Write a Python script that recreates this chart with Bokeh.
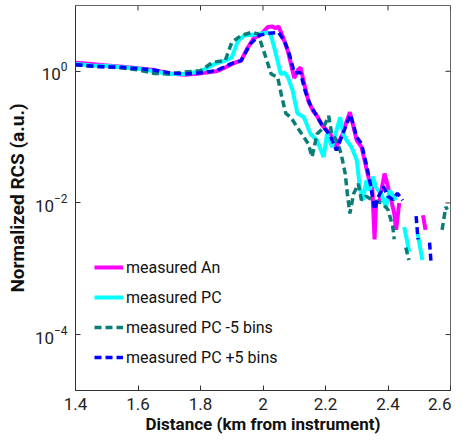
import math
from bokeh.plotting import figure
from bokeh.models import FixedTicker, Legend, LegendItem, Range1d
from bokeh.embed import file_html
from bokeh.resources import INLINE

nan = float("nan")

# ---- data (distance in km, normalized RCS) ----
an_dist = [1.40, 1.45, 1.50, 1.55, 1.60, 1.65, 1.70, 1.75, 1.80, 1.85, 1.88, 1.91, 1.93, 1.95,
           1.97, 1.995, 2.015, 2.03, 2.04, 2.05, 2.065, 2.08, 2.10, 2.112, 2.12, 2.13, 2.145,
           2.16, 2.17, 2.19, 2.215, 2.235, 2.255, 2.265, 2.278, 2.29, 2.30, 2.315, 2.33, 2.34,
           2.35, 2.357, 2.362, 2.373, 2.389, 2.405, 2.42, 2.426, 2.436, 2.47, 2.512, 2.52]
an_rcs = [1.35, 1.29, 1.23, 1.17, 1.11, 1.05, 0.93, 0.89, 0.93, 1.0, 1.15, 1.35, 1.45, 2.24,
          3.16, 3.7, 4.7, 4.8, 4.5, 4.8, 3.2, 2.0, 0.79, 1.05, 1.15, 0.71, 0.355,
          0.25, 0.22, 0.15, 0.112, 0.071, 0.112, 0.16, 0.24, 0.14, 0.089, 0.071, 0.035, 0.022,
          0.016, 0.0028, 0.01, 0.011, 0.028, 0.014, 0.0069, 0.0039, 0.01, nan, 0.0065, 0.0039]

pc_dist = [1.40, 1.45, 1.50, 1.55, 1.60, 1.65, 1.70, 1.75, 1.80, 1.85, 1.88, 1.90, 1.92, 1.94,
           1.96, 1.985, 2.015, 2.025, 2.036, 2.057, 2.07, 2.08, 2.095, 2.11, 2.131, 2.152,
           2.173, 2.194, 2.205, 2.221, 2.232, 2.247, 2.257, 2.268, 2.283, 2.30, 2.31, 2.32,
           2.331, 2.341, 2.352, 2.362, 2.378, 2.394, 2.405, 2.426, 2.44, 2.452, 2.468, 2.48,
           2.495, 2.51]
pc_rcs = [1.29, 1.23, 1.2, 1.15, 1.1, 1.0, 0.91, 0.91, 1.0, 1.32, 1.45, 1.62, 2.9, 3.5,
          3.55, 3.7, 3.9, 3.55, 2.3, 0.91, 0.95, 0.81, 0.51, 0.23, 0.2, 0.112,
          0.089, 0.05, 0.112, 0.071, 0.112, 0.2, 0.112, 0.089, 0.071, 0.045, 0.017, 0.011,
          0.022, 0.0155, 0.025, 0.017, 0.0138, 0.0087, 0.0155, 0.011, nan, 0.0043, 0.0018, nan,
          0.0034, 0.00135]

pcm5_dist = [1.40, 1.45, 1.50, 1.55, 1.60, 1.65, 1.70, 1.75, 1.80, 1.84, 1.879, 1.90, 1.93,
             1.963, 1.984, 2.005, 2.026, 2.047, 2.06, 2.073, 2.089, 2.11, 2.131, 2.145, 2.157,
             2.173, 2.194, 2.21, 2.22, 2.236, 2.25, 2.263, 2.27, 2.278, 2.29, 2.305, 2.315,
             2.33, 2.35, 2.38, 2.40, 2.415, 2.42, 2.44, 2.457, 2.467, 2.52, 2.573, 2.585, 2.59]
pcm5_rcs = [1.26, 1.2, 1.17, 1.12, 1.05, 0.93, 0.91, 0.98, 1.02, 1.38, 1.45, 2.75, 3.5,
            3.9, 3.7, 1.86, 0.91, 0.81, 0.41, 0.23, 0.2, 0.14, 0.1, 0.079, 0.05,
            0.112, 0.14, 0.21, 0.112, 0.089, 0.056, 0.028, 0.0138, 0.0069, 0.0138, 0.0195, 0.011,
            0.0126, 0.011, 0.01, 0.0079, 0.0044, 0.0028, nan, 0.0021, 0.00135, nan, 0.0039, 0.0087, 0.0079]

pcp5_dist = [1.40, 1.45, 1.50, 1.55, 1.60, 1.65, 1.70, 1.75, 1.80, 1.85, 1.90, 1.93, 1.96,
             1.99, 2.02, 2.05, 2.07, 2.085, 2.10, 2.12, 2.135, 2.15, 2.165, 2.19, 2.215, 2.235,
             2.255, 2.28, 2.30, 2.315, 2.33, 2.345, 2.357, 2.37, 2.385, 2.40, 2.415, 2.43,
             2.447, 2.47, 2.49, 2.496, 2.515, 2.533, 2.538]
pcp5_rcs = [1.26, 1.2, 1.17, 1.15, 1.1, 1.05, 0.95, 0.91, 0.95, 1.02, 1.32, 1.45, 2.63,
            3.55, 3.8, 3.9, 2.8, 1.78, 0.95, 0.95, 0.5, 0.32, 0.24, 0.15, 0.105, 0.063,
            0.112, 0.22, 0.1, 0.079, 0.04, 0.0178, 0.0079, 0.0126, 0.0178, 0.0126, 0.0112, 0.014,
            0.011, nan, 0.0063, 0.0028, nan, 0.0025, 0.0012]

x_ticks = [1.4, 1.6, 1.8, 2.0, 2.2, 2.4, 2.6]
x_tick_labels = ["1.4", "1.6", "1.8", "2", "2.2", "2.4", "2.6"]
y_ticks = [1e-4, 1e-2, 1.0]

series_names = ["measured An", "measured PC", "measured PC -5 bins", "measured PC +5 bins"]

FONT = "Roboto"
AX = "#333333"

x_lo, x_hi = 1.4, 2.6
y_lo, y_hi = 10 ** -4.85, 10 ** 1.0

p = figure(width=451, height=436, output_backend="svg", toolbar_location=None,
           y_axis_type="log",
           x_range=Range1d(x_lo, x_hi), y_range=Range1d(y_lo, y_hi),
           min_border_left=75, min_border_right=1, min_border_top=5, min_border_bottom=45)
p.background_fill_color = "white"
p.border_fill_color = "white"
p.grid.visible = False
p.outline_line_color = "#666666"
p.outline_line_width = 1

r_an = p.line(an_dist, an_rcs, line_color="#ff00ff", line_width=4)
r_pc = p.line(pc_dist, pc_rcs, line_color="#00ffff", line_width=4)
r_m5 = p.line(pcm5_dist, pcm5_rcs, line_color="#0a7d78", line_width=3.5, line_dash="7 4")
r_p5 = p.line(pcp5_dist, pcp5_rcs, line_color="#0000ff", line_width=3.5, line_dash="7 4")

# inward ticks on the top and right edges of the box
p.ray(x=x_ticks, y=[y_hi] * len(x_ticks), length=5, length_units="screen",
      angle=-math.pi / 2, line_color=AX, line_width=1)
p.ray(x=[x_hi] * len(y_ticks), y=y_ticks, length=5, length_units="screen",
      angle=math.pi, line_color=AX, line_width=1)

for ax in p.xaxis + p.yaxis:
    ax.axis_line_color = AX
    ax.major_tick_line_color = AX
    ax.major_tick_in = 5
    ax.major_tick_out = 0
    ax.minor_tick_line_color = None
    ax.major_label_text_font = FONT
    ax.major_label_text_font_size = "17px"
    ax.major_label_text_color = "#222222"
    ax.axis_label_text_font = FONT
    ax.axis_label_text_font_style = "bold"
    ax.axis_label_text_color = "#111111"

p.xaxis.ticker = FixedTicker(ticks=x_ticks)
p.xaxis.major_label_overrides = {t: l for t, l in zip(x_ticks, x_tick_labels)}
p.xaxis.axis_label = "Distance (km from instrument)"
p.xaxis.axis_label_text_font_size = "17px"
p.xaxis.major_label_standoff = 7
p.xaxis.axis_label_standoff = 1

p.yaxis.ticker = FixedTicker(ticks=y_ticks)
p.yaxis.axis_label = "Normalized RCS (a.u.)"
p.yaxis.axis_label_text_font_size = "19px"
p.yaxis.major_label_standoff = 8
p.yaxis.axis_label_standoff = 3

legend = Legend(items=[LegendItem(label=series_names[0], renderers=[r_an]),
                       LegendItem(label=series_names[1], renderers=[r_pc]),
                       LegendItem(label=series_names[2], renderers=[r_m5]),
                       LegendItem(label=series_names[3], renderers=[r_p5])],
                location=(19, 23), border_line_alpha=0, background_fill_alpha=0,
                padding=0, spacing=10, glyph_width=29, glyph_height=20, label_height=20,
                label_standoff=3, label_text_font=FONT, label_text_font_size="16px",
                label_text_color="#111111")
p.add_layout(legend, "center")

open("out.html", "w").write(file_html(p, INLINE))
